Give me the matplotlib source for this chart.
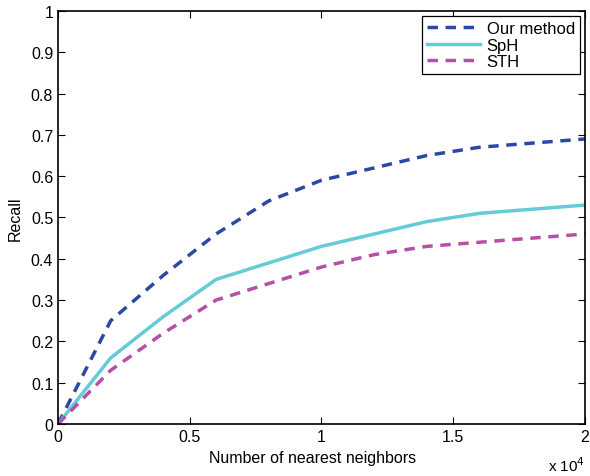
import matplotlib
matplotlib.use('Agg')
import matplotlib.pyplot as plt

plt.rcParams['font.family'] = ['Liberation Sans', 'DejaVu Sans']

# data
neighbors = [0, 2000, 4000, 6000, 8000, 10000, 12000, 14000, 16000, 18000, 20000]
our_method = [0, 0.25, 0.36, 0.46, 0.54, 0.59, 0.62, 0.65, 0.67, 0.68, 0.69]
sph = [0, 0.16, 0.26, 0.35, 0.39, 0.43, 0.46, 0.49, 0.51, 0.52, 0.53]
sth = [0, 0.13, 0.22, 0.30, 0.34, 0.38, 0.41, 0.43, 0.44, 0.45, 0.46]

xtick_vals = [0, 5000, 10000, 15000, 20000]
xtick_labels = ['0', '0.5', '1', '1.5', '2']
ytick_vals = [0, 0.1, 0.2, 0.3, 0.4, 0.5, 0.6, 0.7, 0.8, 0.9, 1]
ytick_labels = ['0', '0.1', '0.2', '0.3', '0.4', '0.5', '0.6', '0.7', '0.8', '0.9', '1']

fig = plt.figure(figsize=(5.9, 4.77), dpi=100)
ax = fig.add_axes([0.0983, 0.109, 0.893, 0.866])

ax.plot(neighbors, our_method, '--', color='#2b48a6', lw=2.5, dashes=(3, 2.2), label='Our method')
ax.plot(neighbors, sph, '-', color='#66cbd8', lw=2.5, label='SpH')
ax.plot(neighbors, sth, '--', color='#b64fa8', lw=2.5, dashes=(3, 2.2), label='STH')

ax.set_xlim(0, 20000)
ax.set_ylim(0, 1)
ax.set_xticks(xtick_vals)
ax.set_xticklabels(xtick_labels)
ax.set_yticks(ytick_vals)
ax.set_yticklabels(ytick_labels)
ax.tick_params(direction='in', top=True, right=True, labelsize=11.5, length=5, width=0.8)
for s in ax.spines.values():
    s.set_linewidth(1.2)

ax.set_xlabel('Number of nearest neighbors', fontsize=11.5, labelpad=5)
ax.xaxis.set_label_coords(0.483, -0.062)
ax.set_ylabel('Recall', fontsize=11.5, labelpad=6)
ax.text(1.0, -0.075, 'x 10$^4$', transform=ax.transAxes, fontsize=11, ha='right', va='top')

leg = ax.legend(loc='upper right', fontsize=12, fancybox=False, framealpha=1,
                edgecolor='black', handlelength=3.2, borderpad=0.3, labelspacing=0.1,
                handletextpad=0.4, borderaxespad=0.3)
leg.get_frame().set_linewidth(0.9)

plt.savefig('out.png', dpi=100)
